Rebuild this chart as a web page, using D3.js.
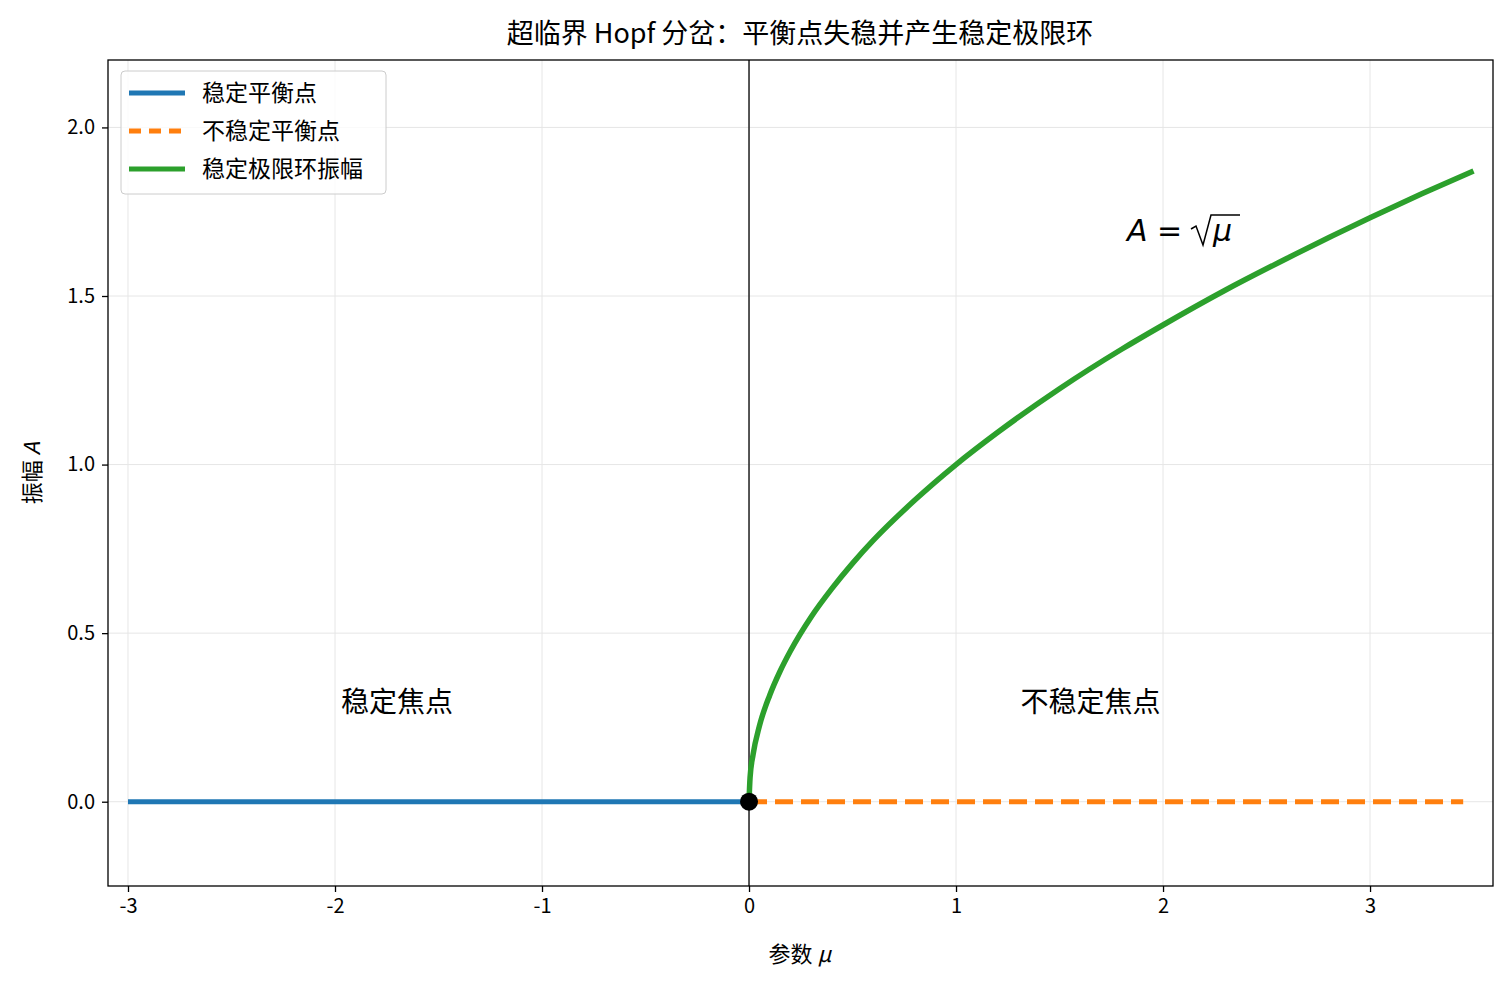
<!DOCTYPE html>
<html><head><meta charset="utf-8">
<script src="https://cdn.jsdelivr.net/npm/d3@7"></script>
<style>body{margin:0;background:#fff}text{font-family:"Noto Sans CJK SC","DejaVu Sans",sans-serif}</style>
</head><body><svg id="c" width="1511" height="987"></svg>
<script>
// values
const stableMu=[-3,0], stableA=[0,0];
const unstableMu=[0,3.45], unstableA=[0,0];
const cycleMu=[0,0.005,0.02,0.05,0.1,0.15,0.2,0.3,0.4,0.5,0.6,0.8,1,1.2,1.5,1.8,2,2.3,2.6,3,3.25,3.5];
const cycleA=[0,0.071,0.141,0.224,0.316,0.387,0.447,0.548,0.632,0.707,0.775,0.894,1,1.095,1.225,1.342,1.414,1.517,1.612,1.732,1.803,1.871];
const xTicks=[-3,-2,-1,0,1,2,3];
const yTicks=[0,0.5,1,1.5,2];

const svg=d3.select("#c");
const L=108,R=1493,T=60,B=886;
const x=d3.scaleLinear().domain([-3.0966,3.594]).range([L,R]);
const y=d3.scaleLinear().domain([-0.25,2.2]).range([B,T]);

const g=svg.append("g");
g.selectAll(".gx").data(xTicks).join("line").attr("x1",d=>x(d)).attr("x2",d=>x(d)).attr("y1",T).attr("y2",B).attr("stroke","#e6e6e6");
g.selectAll(".gy").data(yTicks).join("line").attr("y1",d=>y(d)).attr("y2",d=>y(d)).attr("x1",L).attr("x2",R).attr("stroke","#e6e6e6");
g.append("line").attr("x1",x(0)).attr("x2",x(0)).attr("y1",T).attr("y2",B).attr("stroke","#000").attr("stroke-width",1.3);

const line=d3.line().x(d=>x(d[0])).y(d=>y(d[1]));
g.append("path").attr("d",line(d3.zip(stableMu,stableA))).attr("fill","none").attr("stroke","#1f77b4").attr("stroke-width",5);
g.append("path").attr("d",line(d3.zip(unstableMu,unstableA))).attr("fill","none").attr("stroke","#ff7f0e").attr("stroke-width",5).attr("stroke-dasharray","18,8");
g.append("path").attr("d",d3.line().curve(d3.curveMonotoneX).x(d=>x(d[0])).y(d=>y(d[1]))(d3.zip(cycleMu,cycleA))).attr("fill","none").attr("stroke","#2ca02c").attr("stroke-width",5.5);
g.append("circle").attr("cx",x(0)).attr("cy",y(0)).attr("r",9).attr("fill","#000");

svg.append("rect").attr("x",L).attr("y",T).attr("width",R-L).attr("height",B-T).attr("fill","none").attr("stroke","#000").attr("stroke-width",1.3);

const xa=svg.append("g").attr("transform",`translate(0,${B})`).call(d3.axisBottom(x).tickValues(xTicks).tickFormat(d=>String(d)).tickSize(6).tickPadding(7));
const ya=svg.append("g").attr("transform",`translate(${L},0)`).call(d3.axisLeft(y).tickValues(yTicks).tickFormat(d3.format(".1f")).tickSize(6).tickPadding(7));
[xa,ya].forEach(a=>{a.select(".domain").remove();a.selectAll("text").style("font-size","20px").attr("fill","#000").style("font-family","'Noto Sans CJK SC'");a.selectAll("line").attr("stroke","#000").attr("stroke-width",1.3);});

svg.append("text").attr("x",800).attr("y",43).attr("text-anchor","middle").style("font-size","27px").text("超临界 Hopf 分岔：平衡点失稳并产生稳定极限环");
svg.append("text").attr("x",800).attr("y",962).attr("text-anchor","middle").style("font-size","22px").html('参数 <tspan font-style="italic">μ</tspan>');
svg.append("text").attr("transform","translate(40,473) rotate(-90)").attr("text-anchor","middle").style("font-size","22px").html('振幅 <tspan font-style="italic">A</tspan>');

svg.append("text").attr("x",x(-1.7)).attr("y",y(0.265)).attr("text-anchor","middle").style("font-size","28px").text("稳定焦点");
svg.append("text").attr("x",x(1.65)).attr("y",y(0.265)).attr("text-anchor","middle").style("font-size","28px").text("不稳定焦点");
const fx=1127, fy=241;
svg.append("text").attr("x",fx).attr("y",fy).style("font-size","30px").style("font-family","DejaVu Sans").html('<tspan font-style="italic">A</tspan> = ');
svg.append("path").attr("d",`M${fx+64},${fy-12} L${fx+69},${fy-15} L${fx+76},${fy+4} L${fx+84},${fy-26} L${fx+113},${fy-26}`).attr("fill","none").attr("stroke","#000").attr("stroke-width",1.5);
svg.append("text").attr("x",fx+86).attr("y",fy).style("font-size","30px").attr("font-style","italic").style("font-family","DejaVu Sans").text("μ");

const lg=svg.append("g").attr("transform","translate(121,71)");
lg.append("rect").attr("width",265).attr("height",123).attr("rx",4).attr("fill","#fff").attr("fill-opacity",0.8).attr("stroke","#ccc");
const items=[["稳定平衡点","#1f77b4",null],["不稳定平衡点","#ff7f0e","12,8"],["稳定极限环振幅","#2ca02c",null]];
items.forEach((d,i)=>{
  const yy=22+i*38;
  lg.append("line").attr("x1",8).attr("x2",64).attr("y1",yy).attr("y2",yy).attr("stroke",d[1]).attr("stroke-width",5).attr("stroke-dasharray",d[2]);
  lg.append("text").attr("x",81).attr("y",yy+8).style("font-size","23px").text(d[0]);
});
</script></body></html>
